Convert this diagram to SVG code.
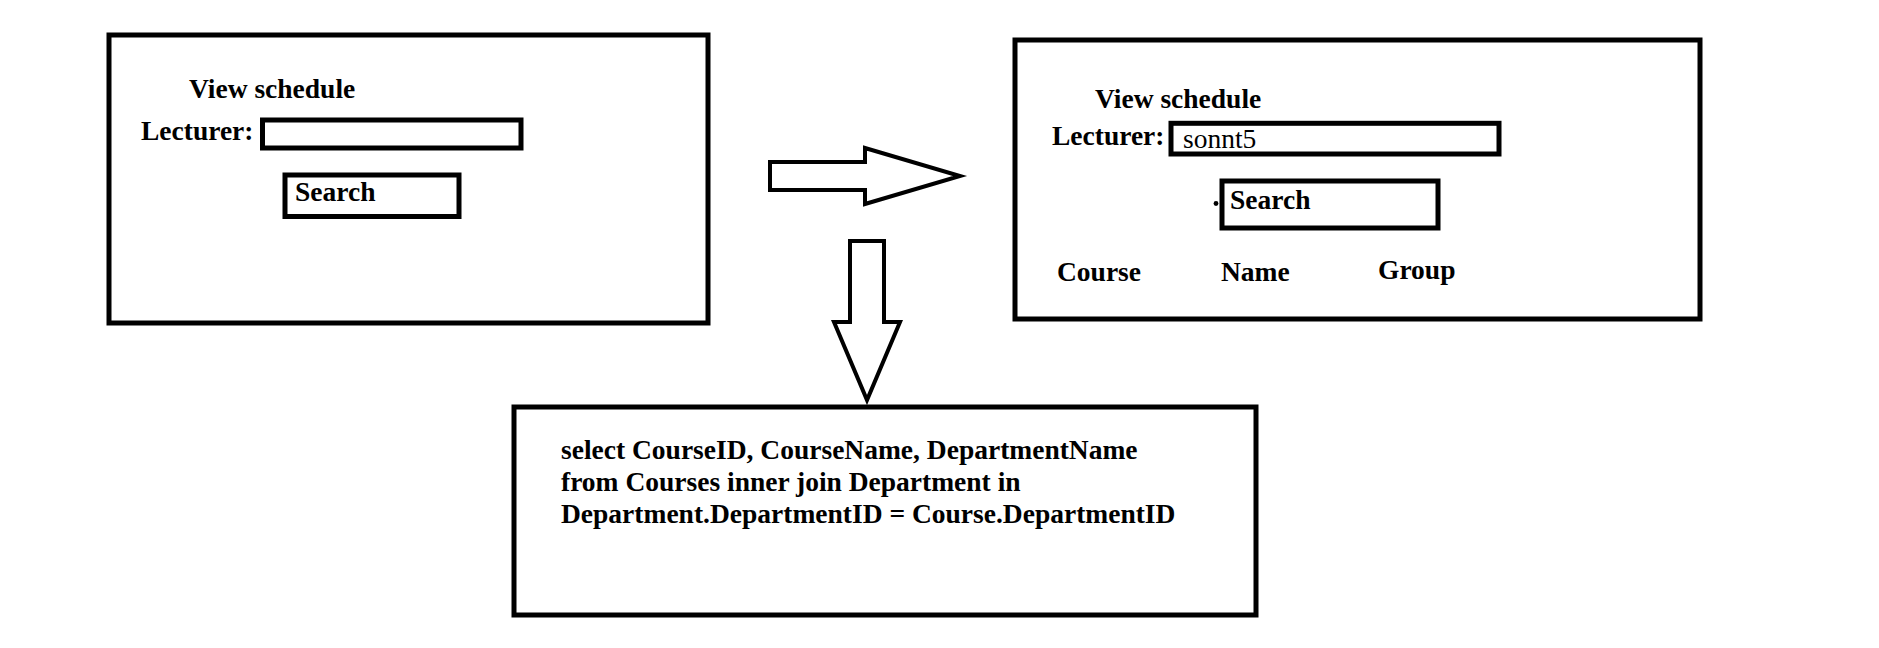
<svg xmlns="http://www.w3.org/2000/svg" width="1879" height="648" viewBox="0 0 1879 648">
<style>
.box{fill:#fff;stroke:#000;stroke-width:5}
.arrow{fill:#fff;stroke:#000;stroke-width:4;stroke-linejoin:miter}
.t{font-family:"Liberation Serif","Times New Roman",serif;font-size:27.5px;font-weight:bold;fill:#000}
.r{font-family:"Liberation Serif","Times New Roman",serif;font-size:27.5px;fill:#000}
</style>
<rect width="1879" height="648" fill="#fff"/>
<g id="screen-before">
<rect class="box" x="109" y="35" width="599" height="288"/>
<text class="t" x="189" y="98">View schedule</text>
<text class="t" x="141" y="140">Lecturer:</text>
<rect class="box" x="262.5" y="120" width="258.5" height="28"/>
<g id="search-before">
<rect class="box" x="285" y="175" width="174" height="41.5"/>
<text class="t" x="295" y="200.5">Search</text>
</g>
</g>
<g id="screen-after">
<rect class="box" x="1015" y="40" width="685" height="279"/>
<text class="t" x="1095" y="108">View schedule</text>
<text class="t" x="1052" y="145">Lecturer:</text>
<rect class="box" x="1171" y="123.3" width="328" height="30.7"/>
<text class="r" x="1183" y="148">sonnt5</text>
<g id="search-after">
<rect class="box" x="1222" y="181" width="216" height="47"/>
<circle cx="1216" cy="203.5" r="2.4" fill="#000"/>
<text class="t" x="1230" y="209">Search</text>
</g>
<text class="t" x="1057" y="281">Course</text>
<text class="t" x="1221" y="281">Name</text>
<text class="t" x="1378" y="279">Group</text>
</g>
<g id="query">
<rect class="box" x="514" y="407" width="742" height="208"/>
<text class="t" x="561" y="459">select CourseID, CourseName, DepartmentName</text>
<text class="t" x="561" y="491">from Courses inner join Department in</text>
<text class="t" x="561" y="523">Department.DepartmentID = Course.DepartmentID</text>
</g>
<g id="connectors">
<polygon class="arrow" points="770,162 865,162 865,148 960,176 865,204 865,190 770,190"/>
<polygon class="arrow" points="850,241 884,241 884,322 900,322 867,400 834,322 850,322"/>
</g>
</svg>
